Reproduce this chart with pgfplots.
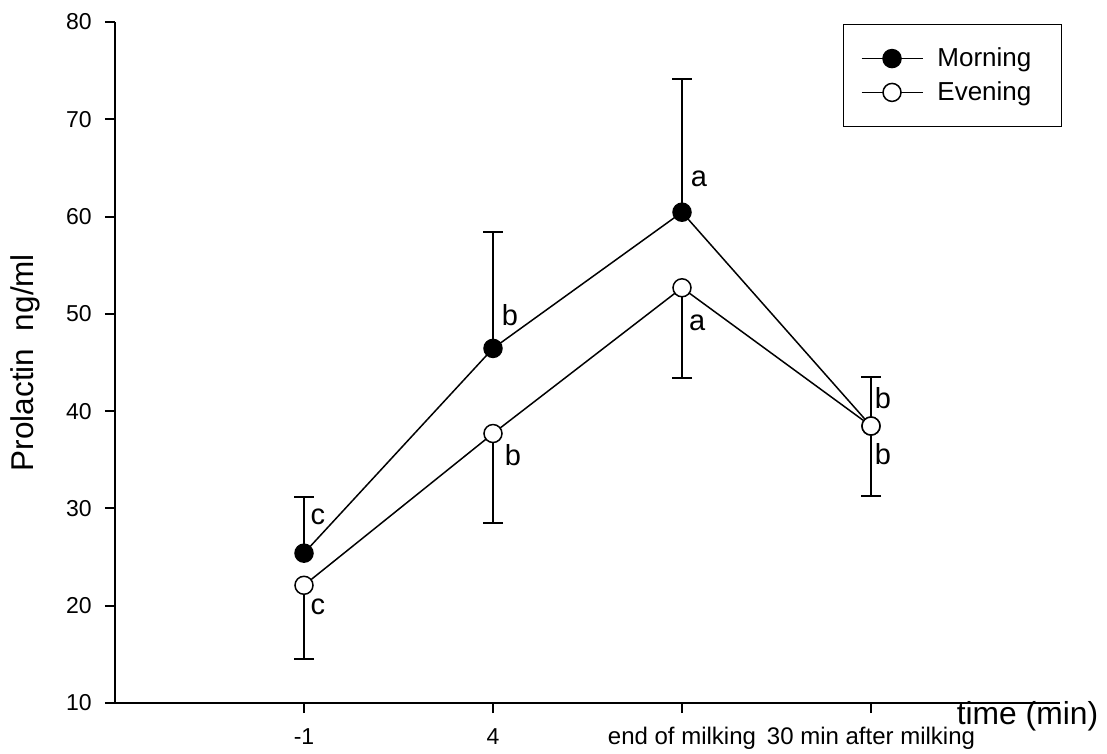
\documentclass[border=0pt]{standalone}
\usepackage{fontspec}
\setmainfont{Liberation Sans}
\usepackage{pgfplots}
\pgfplotsset{compat=1.18}
\begin{document}
\begin{tikzpicture}
\begin{axis}[
  scale only axis, width=472.5pt, height=340.5pt,
  xmin=0, xmax=5, ymin=10, ymax=80,
  axis x line*=bottom, axis y line*=left,
  axis line style={line width=1pt},
  xtick={1,2,3,4},
  xticklabels={{-1},{4},{\fontsize{12}{14}\selectfont end of milking},{\fontsize{12}{14}\selectfont 30 min after milking}},
  ytick={10,20,...,80},
  tick align=outside, major tick length=5pt,
  tick style={black, line width=1pt},
  /pgf/number format/assume math mode=true,
  tick label style={font=\fontsize{11.5}{13}\selectfont},
  xticklabel style={inner sep=0pt, text height=8.2pt, text depth=2.5pt, anchor=north, yshift=-7.5pt},
  yticklabel style={inner sep=0pt, anchor=east, xshift=-6.5pt},
  ylabel={Prolactin\ \ ng/ml},
  ylabel style={at={(axis description cs:-0.095,0.5)}, anchor=center, font=\fontsize{15.75}{18}\selectfont},
  xlabel={time (min)},
  xlabel style={at={(axis description cs:0.9656,-0.0323)}, anchor=base, font=\fontsize{15.9}{18}\selectfont},
  legend style={at={(axis description cs:0.7704,0.997)}, anchor=north west, draw=black, line width=0.6pt,
    font=\fontsize{13}{15}\selectfont, inner xsep=8.5pt, inner ysep=9.5pt, row sep=2pt},
  legend cell align=left,
  legend image code/.code={\draw[mark repeat=2,mark phase=2, line width=0.9pt] plot coordinates {(0pt,0pt) (15.25pt,0pt) (30.5pt,0pt)};},
]
\addplot[black, line width=0.75pt, mark=*, mark size=4.5pt, mark options={fill=black, line width=0.75pt},
  error bars/.cd, y dir=plus, y explicit,
  error bar style={line width=1pt, black},
  error mark options={rotate=90, mark size=5pt, line width=1pt, black}]
  coordinates {
  (1,25.4) +- (0,5.8)
  (2,46.45) +- (0,11.95)
  (3,60.45) +- (0,13.7)
  (4,38.47) +- (0,5.0)
  };
\addplot[black, line width=0.75pt, mark=*, mark size=4.5pt, mark options={fill=white, line width=0.75pt},
  error bars/.cd, y dir=minus, y explicit,
  error bar style={line width=1pt, black},
  error mark options={rotate=90, mark size=5pt, line width=1pt, black}]
  coordinates {
  (1,22.1) +- (0,7.55)
  (2,37.7) +- (0,9.2)
  (3,52.68) +- (0,9.25)
  (4,38.47) +- (0,7.17)
  };
\legend{\hspace{5pt}Morning\rule{4.5pt}{0pt}, \hspace{5pt}Evening\rule{4.5pt}{0pt}}
\begin{scope}[every node/.style={font=\fontsize{14.5}{17}\selectfont, inner sep=0pt}]
\node at (axis cs:1.074,29.1) {c};
\node at (axis cs:1.074,19.9) {c};
\node at (axis cs:2.09,49.9) {b};
\node at (axis cs:2.106,35.5) {b};
\node at (axis cs:3.09,63.85) {a};
\node at (axis cs:3.08,49.05) {a};
\node at (axis cs:4.063,41.35) {b};
\node at (axis cs:4.063,35.6) {b};
\end{scope}
\end{axis}
\pgfresetboundingbox
\path ([shift={(-57.5pt,-25.5pt)}]current axis.south west) rectangle ([shift={(23.5pt,11pt)}]current axis.north east);
\end{tikzpicture}
\end{document}
